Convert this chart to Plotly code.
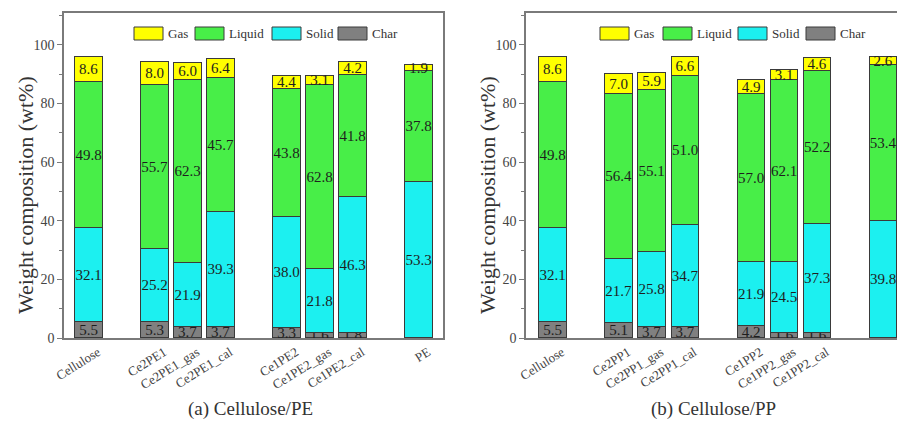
import plotly.graph_objects as go

# Product distribution (wt%) for each feedstock / experiment
fractions = ["Gas", "Liquid", "Solid", "Char"]

pe_samples = ["Cellulose", "Ce2PE1", "Ce2PE1_gas", "Ce2PE1_cal",
              "Ce1PE2", "Ce1PE2_gas", "Ce1PE2_cal", "PE"]
pe_char = [5.5, 5.3, 3.7, 3.7, 3.3, 1.6, 1.8, 0.0]
pe_solid = [32.1, 25.2, 21.9, 39.3, 38.0, 21.8, 46.3, 53.3]
pe_liquid = [49.8, 55.7, 62.3, 45.7, 43.8, 62.8, 41.8, 37.8]
pe_gas = [8.6, 8.0, 6.0, 6.4, 4.4, 3.1, 4.2, 1.9]

pp_samples = ["Cellulose", "Ce2PP1", "Ce2PP1_gas", "Ce2PP1_cal",
              "Ce1PP2", "Ce1PP2_gas", "Ce1PP2_cal", "PP"]
pp_char = [5.5, 5.1, 3.7, 3.7, 4.2, 1.6, 1.6, 0.0]
pp_solid = [32.1, 21.7, 25.8, 34.7, 21.9, 24.5, 37.3, 39.8]
pp_liquid = [49.8, 56.4, 55.1, 51.0, 57.0, 62.1, 52.2, 53.4]
pp_gas = [8.6, 7.0, 5.9, 6.6, 4.9, 3.1, 4.6, 2.6]

# samples per cluster; clusters are separated by one empty slot
group_sizes = [1, 3, 3, 1]

W, H = 897, 421
SERIF = "Liberation Serif"
COLORS = {"Gas": "#FFFF00", "Liquid": "#48EE48", "Solid": "#1CF0F0", "Char": "#808080"}
EDGE = "#3a3a3a"
AXIS = "#7a7a7a"


def slot_positions(sizes):
    pos, p = [], 0
    for n in sizes:
        for _ in range(n):
            pos.append(p)
            p += 1
        p += 1
    return pos


xpos = slot_positions(group_sizes)


def labels(vals):
    return [f"{v:.1f}" if v > 0 else "" for v in vals]


fig = go.Figure()


def add_panel(xa, ya, char, solid, liquid, gas):
    stack = [("Char", char), ("Solid", solid), ("Liquid", liquid), ("Gas", gas)]
    for name, vals in stack:
        fig.add_trace(go.Bar(
            x=xpos, y=vals, name=name, xaxis=xa, yaxis=ya,
            width=0.83,
            marker=dict(color=COLORS[name], line=dict(color=EDGE, width=1)),
            text=labels(vals), textposition="inside",
            insidetextanchor="middle", textangle=0,
            textfont=dict(family=SERIF, size=15, color="#1e1e1e"),
            constraintext="none", showlegend=False, hoverinfo="skip",
        ))


add_panel("x", "y", pe_char, pe_solid, pe_liquid, pe_gas)
add_panel("x2", "y2", pp_char, pp_solid, pp_liquid, pp_gas)

# plot-area geometry in pixels
L1, R1 = 64, 443
L2, R2 = 526, 897
TOP, BOT = 13, 338
ydom = [(H - BOT) / H, (H - TOP) / H]

xcommon = dict(showline=True, linecolor=AXIS, linewidth=1.5, mirror=True,
               ticks="", showgrid=False, zeroline=False, automargin=False,
               tickvals=xpos, tickangle=-32, ticklabelshift=9,
               tickfont=dict(family=SERIF, size=13, color="#444444"))
ycommon = dict(domain=ydom, range=[0, 110.9], showline=True, linecolor=AXIS,
               linewidth=1.5, ticks="outside", ticklen=5, tickwidth=1,
               tickcolor=AXIS, tickvals=[0, 20, 40, 60, 80, 100],
               minor=dict(ticks="outside", ticklen=3, tickcolor=AXIS,
                          tickvals=[10, 30, 50, 70, 90, 110]),
               showgrid=False, zeroline=False, automargin=False,
               tickfont=dict(family=SERIF, size=14, color="#444444"))

fig.update_layout(
    width=W, height=H, margin=dict(l=0, r=0, t=0, b=0, autoexpand=False),
    paper_bgcolor="white", plot_bgcolor="white",
    font=dict(family=SERIF),
    barmode="stack", bargap=0,
    uniformtext=dict(minsize=15, mode="show"),
    xaxis=dict(domain=[L1 / W, R1 / W], range=[-0.758, 10.727],
               ticktext=pe_samples, anchor="y", **xcommon),
    xaxis2=dict(domain=[L2 / W, R2 / W], range=[-0.817, 10.405],
                ticktext=pp_samples, anchor="y2", **xcommon),
    yaxis=dict(anchor="x", mirror=True, **ycommon),
    yaxis2=dict(anchor="x2", mirror=False, **ycommon),
)

annotations = []
shapes = []

# axis titles and panel captions
for cx in (25, 487):
    annotations.append(dict(
        x=cx / W, y=1 - 195 / H, xref="paper", yref="paper",
        text="Weight composition (wt%)", textangle=-90, showarrow=False,
        font=dict(family=SERIF, size=22, color="#333333"),
        xanchor="center", yanchor="middle"))
for cx, cap in ((250, "(a) Cellulose/PE"), (713, "(b) Cellulose/PP")):
    annotations.append(dict(
        x=cx / W, y=1 - 409 / H, xref="paper", yref="paper", text=cap,
        showarrow=False, font=dict(family=SERIF, size=19, color="#333333"),
        xanchor="center", yanchor="middle"))

# in-plot legends (wide swatches), one per panel
legend_boxes = {
    L1: [134, 195, 272, 338],
    L2: [600, 663, 738, 806],
}
for left, starts in legend_boxes.items():
    for name, x0 in zip(fractions, starts):
        shapes.append(dict(
            type="rect", xref="paper", yref="paper",
            x0=x0 / W, x1=(x0 + 29) / W, y0=1 - 40 / H, y1=1 - 27 / H,
            fillcolor=COLORS[name], line=dict(color=EDGE, width=1)))
        annotations.append(dict(
            x=(x0 + 32) / W, y=1 - 33.5 / H, xref="paper", yref="paper",
            text=name, showarrow=False, xanchor="left", yanchor="middle",
            font=dict(family=SERIF, size=13, color="#333333")))

fig.update_layout(annotations=annotations, shapes=shapes)

fig.write_html("out.html")
